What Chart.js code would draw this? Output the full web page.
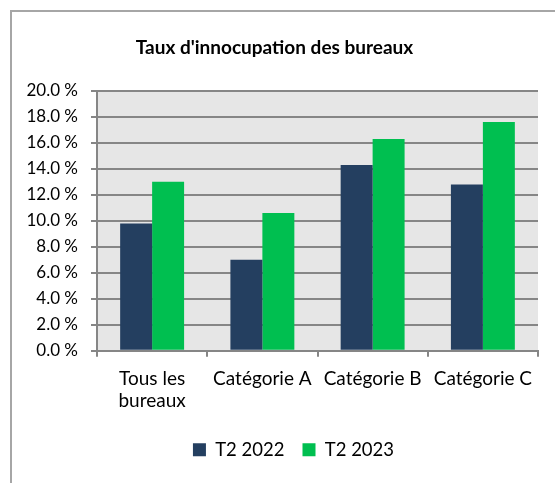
<!DOCTYPE html>
<html>
<head>
<meta charset="utf-8">
<script src="https://cdn.jsdelivr.net/npm/chart.js@4/dist/chart.umd.min.js"></script>
<style>
  html, body { margin:0; padding:0; background:#fff; overflow:hidden; }
  #wrap { position:relative; width:555px; height:483px; }
  #frame { position:absolute; left:10px; top:10px; width:600px; height:600px; border:2px solid #a6a6a6; box-sizing:border-box; }
  canvas { position:absolute; left:0; top:0; }
</style>
</head>
<body>
<div id="wrap">
  <div id="frame"></div>
  <canvas id="chart" width="555" height="483"></canvas>
</div>
<script>
// data
const categories = [["Tous les", "bureaux"], "Catégorie A", "Catégorie B", "Catégorie C"];
const seriesNames = ["T2 2022", "T2 2023"];
const t2_2022 = [9.8, 7.0, 14.3, 12.8];
const t2_2023 = [13.0, 10.6, 16.3, 17.6];
const colors = ["#243f60", "#00bf50"];

const FONT = "Lato";

// grey plot background
const plotBg = {
  id: "plotBg",
  beforeDraw(chart){
    const a = chart.chartArea, ctx = chart.ctx;
    ctx.save();
    ctx.fillStyle = "#e6e6e6";
    ctx.fillRect(a.left, a.top, a.right - a.left, a.bottom - a.top);
    ctx.restore();
  }
};

// nudge title left / legend right like in the original
const nudge = {
  id: "nudge",
  afterLayout(chart){
    if(chart.titleBlock){ chart.titleBlock.left -= 8; chart.titleBlock.right -= 8; }
    if(chart.legend){ chart.legend.left += 11; chart.legend.right += 11; }
  }
};

new Chart(document.getElementById("chart"), {
  type: "bar",
  data: {
    labels: categories,
    datasets: [
      { label: seriesNames[0], data: t2_2022, backgroundColor: colors[0] },
      { label: seriesNames[1], data: t2_2023, backgroundColor: colors[1] }
    ]
  },
  options: {
    responsive: false,
    animation: false,
    layout: { padding: { left: 27, right: 17, top: 0, bottom: 14 } },
    datasets: { bar: { categoryPercentage: 0.58, barPercentage: 1 } },
    plugins: {
      title: {
        display: true,
        text: "Taux d'innocupation des bureaux",
        color: "#000",
        font: { family: FONT, size: 19, weight: "bold" },
        padding: { top: 36, bottom: 32 }
      },
      legend: {
        position: "bottom",
        labels: {
          color: "#000",
          font: { family: FONT, size: 18.5 },
          boxWidth: 13, boxHeight: 13,
          padding: 18
        }
      },
      tooltip: { enabled: false }
    },
    scales: {
      x: {
        grid: { display: true, drawOnChartArea: false, offset: true, color: "#868686", lineWidth: 2, tickLength: 6 },
        border: { color: "#868686", width: 2 },
        ticks: { color: "#000", font: { family: FONT, size: 19, lineHeight: 1.15 }, padding: 11, maxRotation: 0 }
      },
      y: {
        min: 0, max: 20,
        afterFit(s){ s.width = 70; },
        grid: { color: "#868686", lineWidth: 2, tickLength: 6 },
        border: { color: "#868686", width: 2 },
        ticks: {
          stepSize: 2, color: "#000", padding: 13,
          font: { family: FONT, size: 17 },
          callback: v => v.toFixed(1) + " %"
        }
      }
    }
  },
  plugins: [plotBg, nudge]
});
</script>
</body>
</html>
